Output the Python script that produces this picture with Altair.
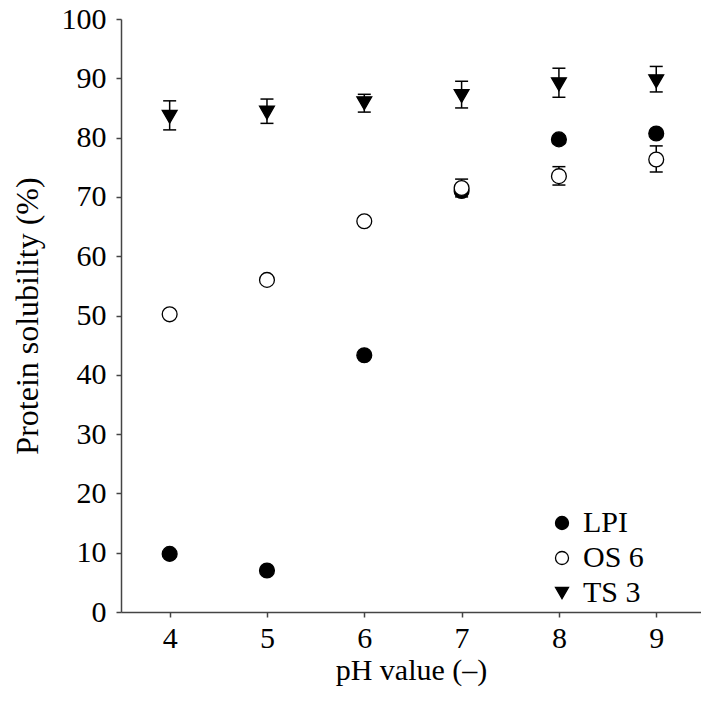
import altair as alt
import pandas as pd

ph = [4, 5, 6, 7, 8, 9]
lpi = [9.8, 7.0, 43.3, 71.0, 79.7, 80.7]
lpi_lo = [None, None, None, 70.4, 79.0, None]
lpi_hi = [None, None, None, 71.6, 80.3, None]
os6 = [50.2, 56.0, 65.9, 71.5, 73.5, 76.3]
os6_lo = [None, None, None, 70.0, 72.0, 74.2]
os6_hi = [None, None, None, 73.0, 75.1, 78.6]
ts3 = [83.5, 84.2, 85.8, 87.0, 89.0, 89.5]
ts3_lo = [81.3, 82.4, 84.3, 85.0, 86.8, 87.7]
ts3_hi = [86.2, 86.5, 87.3, 89.5, 91.7, 92.0]
series_names = ["LPI", "OS 6", "TS 3"]

rows = []
for name, vals, los, his in [("LPI", lpi, lpi_lo, lpi_hi), ("OS 6", os6, os6_lo, os6_hi), ("TS 3", ts3, ts3_lo, ts3_hi)]:
    for p, v, lo, hi in zip(ph, vals, los, his):
        rows.append({"pH": p, "value": v, "lo": lo, "hi": hi, "series": name})
df = pd.DataFrame(rows)
err = df.dropna(subset=["lo"])

font = "Liberation Serif"
xscale = alt.Scale(domain=[3.5, 9.46], nice=False, zero=False)
yscale = alt.Scale(domain=[0, 100], nice=False)

xaxis = alt.Axis(values=ph, format="d", title="pH value (–)", labelPadding=6, titlePadding=2, titleFontSize=30)
yaxis = alt.Axis(values=list(range(0, 101, 10)), format="d", title="Protein solubility (%)", labelPadding=10, titlePadding=17)

base_err = alt.Chart(err)
rule = base_err.mark_rule(color="black", strokeWidth=1.5).encode(
    x=alt.X("pH:Q", scale=xscale, axis=xaxis),
    y=alt.Y("lo:Q", scale=yscale, axis=yaxis),
    y2="hi:Q",
)
cap_lo = base_err.mark_tick(color="black", size=13, thickness=1.5, orient="horizontal", opacity=1).encode(
    x=alt.X("pH:Q", scale=xscale), y=alt.Y("lo:Q", scale=yscale)
)
cap_hi = base_err.mark_tick(color="black", size=13, thickness=1.5, orient="horizontal", opacity=1).encode(
    x=alt.X("pH:Q", scale=xscale), y=alt.Y("hi:Q", scale=yscale)
)

legend = alt.Legend(
    title=None, orient="none", legendX=426, legendY=489,
    labelFont=font, labelFontSize=30, labelColor="black", symbolSize=170,
    symbolStrokeWidth=1.3, labelOffset=6, rowPadding=5, padding=0,
)
points = alt.Chart(df).mark_point(strokeWidth=1.3, opacity=1, fillOpacity=1, size=220).encode(
    x=alt.X("pH:Q", scale=xscale, axis=xaxis),
    y=alt.Y("value:Q", scale=yscale, axis=yaxis),
    shape=alt.Shape("series:N", scale=alt.Scale(domain=series_names, range=["circle", "circle", "triangle-down"]), legend=legend),
    fill=alt.Fill("series:N", scale=alt.Scale(domain=series_names, range=["black", "white", "black"]), legend=legend),
    stroke=alt.Stroke("series:N", scale=alt.Scale(domain=series_names, range=["black", "black", "black"]), legend=legend),
)

chart = alt.layer(rule, cap_lo, cap_hi, points).properties(
    width=580, height=593,
    autosize=alt.AutoSizeParams(type="none"),
    padding={"left": 113, "top": 11, "right": 0, "bottom": 79},
).configure_view(stroke=None).configure_axis(
    grid=False, labelFont=font, titleFont=font, labelFontSize=30, titleFontSize=32,
    titleFontWeight="normal", labelColor="black", titleColor="black",
    domainColor="#444", tickColor="#444", domainWidth=1.5, tickWidth=1.5, tickSize=5,
    labelFlush=False, labelOverlap=False,
)

chart.save("out.html", embed_options={"renderer": "svg", "actions": False})
